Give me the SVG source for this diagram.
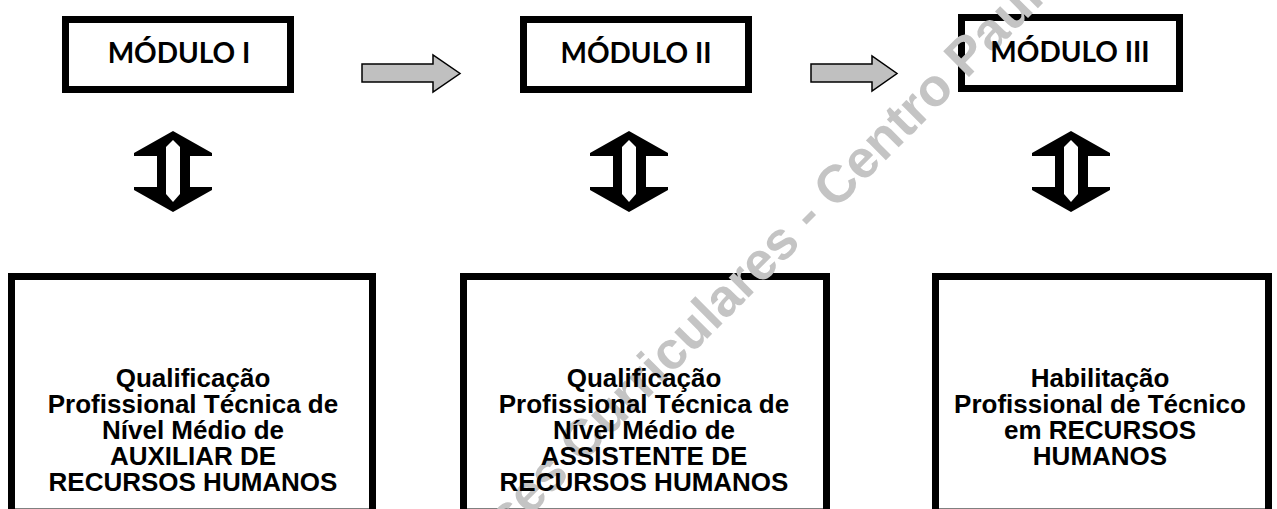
<svg xmlns="http://www.w3.org/2000/svg" width="1277" height="509" viewBox="0 0 1277 509">
<style>
.box{fill:#fff;stroke:#000;stroke-width:7}
.title{font-family:Lato,"Open Sans","Liberation Sans",sans-serif;font-weight:700;font-size:28px;fill:#000;text-anchor:middle}
.body{font-family:"Liberation Sans",Arial,sans-serif;font-weight:700;font-size:26px;fill:#000;text-anchor:middle}
.flow{fill:#c0c0c0;stroke:#000;stroke-width:1.5;stroke-linejoin:miter}
.wm{font-family:"Liberation Sans",Arial,sans-serif;font-weight:700;font-size:53px;fill:#c4c4c4}
</style>
<defs>
<g id="dbl">
<polygon fill="#000" points="0,0 39,22 39,25 17,25 17,56 39,56 39,59 0,81 -39,59 -39,56 -16,56 -16,25 -39,25 -39,22"/>
<polygon fill="#fff" points="0,9 7,16 7,63 0,71 -7,63 -7,16"/>
</g>
</defs>
<rect width="1277" height="509" fill="#fff"/>
<g id="connectors">
<polygon class="flow" points="362,64 433,64 433,55 460,73.5 433,92 433,82 362,82"/>
<polygon class="flow" points="811,64 872,64 872,56 897,73.5 872,91 872,82 811,82"/>
<use href="#dbl" x="173" y="131"/>
<use href="#dbl" x="629" y="131"/>
<use href="#dbl" x="1071" y="131"/>
</g>
<g id="modulo1"><rect class="box" x="65.5" y="19.5" width="225" height="70"/></g>
<g id="modulo2"><rect class="box" x="523.5" y="19.5" width="225" height="70"/></g>
<g id="modulo3"><rect class="box" x="961.5" y="17.5" width="218" height="71"/></g>
<g id="qual1"><rect class="box" x="11.5" y="276.5" width="361" height="235.5"/></g>
<g id="qual2"><rect class="box" x="463.5" y="276.5" width="363" height="235.5"/></g>
<g id="hab"><rect class="box" x="935.5" y="276.5" width="333" height="235.5"/></g>
<text class="wm" transform="translate(498,548) rotate(-45)">ises Curriculares - Centro Paula</text>
<g id="labels">
<text class="title" x="179" y="63">MÓDULO I</text>
<text class="title" x="636" y="63">MÓDULO II</text>
<text class="title" x="1070" y="62">MÓDULO III</text>
<text class="body" x="193"><tspan x="193" y="387">Qualificação</tspan><tspan x="193" y="413">Profissional Técnica de</tspan><tspan x="193" y="439">Nível Médio de</tspan><tspan x="193" y="465">AUXILIAR DE</tspan><tspan x="193" y="491">RECURSOS HUMANOS</tspan></text>
<text class="body" x="644"><tspan x="644" y="387">Qualificação</tspan><tspan x="644" y="413">Profissional Técnica de</tspan><tspan x="644" y="439">Nível Médio de</tspan><tspan x="644" y="465">ASSISTENTE DE</tspan><tspan x="644" y="491">RECURSOS HUMANOS</tspan></text>
<text class="body" x="1100"><tspan x="1100" y="387">Habilitação</tspan><tspan x="1100" y="413">Profissional de Técnico</tspan><tspan x="1100" y="439">em RECURSOS</tspan><tspan x="1100" y="465">HUMANOS</tspan></text>
</g>
</svg>
